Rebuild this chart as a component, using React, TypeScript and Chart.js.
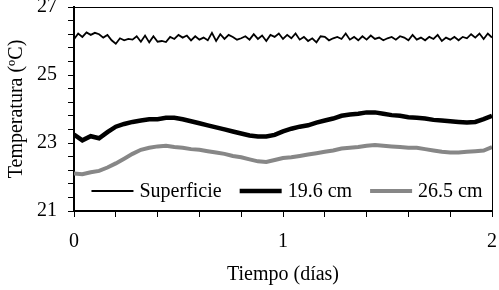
import { useEffect, useRef } from "react";
import { Chart, registerables } from "chart.js";

Chart.register(...registerables);

// ---- data ----
const seriesNames = ["Superficie", "19.6 cm", "26.5 cm"];
const surfaceStep = 0.02; // days between surface readings
const surfaceTemps = [
  26.05, 26.22, 26.12, 26.25, 26.18, 26.24, 26.2, 26.1, 26.18, 26.02,
  25.92, 26.08, 26.02, 26.06, 26.04, 26.14, 25.98, 26.16, 25.96, 26.14,
  25.98, 26.0, 25.97, 26.12, 26.06, 26.18, 26.1, 26.16, 26.02, 26.14,
  26.04, 26.1, 26.02, 26.24, 26.0, 26.2, 26.06, 26.18, 26.12, 26.04,
  26.08, 26.14, 26.04, 26.2, 26.06, 26.16, 26.0, 26.18, 26.12, 26.22,
  26.06, 26.18, 26.08, 26.22, 26.04, 26.12, 26.0, 26.08, 25.96, 26.14,
  26.12, 26.02, 26.08, 26.12, 26.06, 26.22, 26.04, 26.12, 26.02, 26.14,
  26.04, 26.16, 26.06, 26.1, 26.02, 26.08, 26.12, 26.04, 26.14, 26.1,
  26.02, 26.18, 26.04, 26.1, 26.02, 26.12, 26.06, 26.18, 26.0, 26.1,
  26.04, 26.12, 26.02, 26.12, 26.08, 26.2, 26.1, 26.22, 26.06, 26.22,
  26.1,
];
const deepStep = 0.04; // days between readings at depth
const temps196 = [
  23.25, 23.08, 23.2, 23.14, 23.32, 23.48, 23.56, 23.62, 23.66, 23.7,
  23.7, 23.74, 23.74, 23.7, 23.64, 23.58, 23.52, 23.46, 23.4, 23.34,
  23.28, 23.22, 23.19, 23.19, 23.24, 23.34, 23.42, 23.48, 23.52, 23.6,
  23.66, 23.72, 23.8, 23.84, 23.86, 23.9, 23.9, 23.86, 23.82, 23.8,
  23.76, 23.74, 23.72, 23.68, 23.66, 23.64, 23.62, 23.6, 23.62, 23.7,
  23.8,
];
const temps265 = [
  22.1, 22.08, 22.14, 22.18, 22.28, 22.4, 22.54, 22.68, 22.8, 22.86,
  22.9, 22.92, 22.88, 22.86, 22.82, 22.8, 22.76, 22.72, 22.68, 22.62,
  22.58, 22.52, 22.46, 22.44, 22.5, 22.56, 22.58, 22.62, 22.66, 22.7,
  22.74, 22.78, 22.84, 22.86, 22.88, 22.92, 22.94, 22.92, 22.9, 22.88,
  22.86, 22.86, 22.82, 22.78, 22.74, 22.72, 22.72, 22.74, 22.76, 22.78,
  22.88,
];
const xLabelTicks = [0, 1, 2];
const yLabelTicks = [21, 23, 25, 27];
const xAxisTitle = "Tiempo (días)";
const yAxisTitle = "Temperatura (ºC)";

const toPoints = (vals: number[], step: number) =>
  vals.map((v, i) => ({ x: Math.round(i * step * 1000) / 1000, y: v }));

const FONT = "'Liberation Serif', 'Times New Roman', serif";
const FS = 20;

const isLabelTick = (v: number, list: number[]) =>
  list.some((t) => Math.abs(t - v) < 1e-6);

const framePlugin = {
  id: "frame",
  afterDraw(chart: any) {
    const { ctx, chartArea: a } = chart;
    ctx.save();
    ctx.strokeStyle = "#000";
    ctx.lineWidth = 1;
    ctx.beginPath();
    ctx.moveTo(a.left, a.top + 0.5);
    ctx.lineTo(a.right + 0.5, a.top + 0.5);
    ctx.lineTo(a.right + 0.5, a.bottom);
    ctx.stroke();
    ctx.restore();
  },
};

const legendPlugin = {
  id: "insideLegend",
  afterDatasetsDraw(chart: any) {
    const { ctx, chartArea: a } = chart;
    const lineLen = 42;
    const gap = 6;
    const itemGap = 18;
    ctx.save();
    ctx.font = `${FS}px ${FONT}`;
    ctx.textBaseline = "middle";
    const items = chart.data.datasets.map((ds: any) => ({
      ds,
      w: lineLen + gap + ctx.measureText(ds.label).width,
    }));
    const total =
      items.reduce((s: number, it: any) => s + it.w, 0) +
      itemGap * (items.length - 1);
    let x = (a.left + a.right) / 2 - total / 2 + 4;
    const y = a.bottom - 20;
    for (const it of items) {
      ctx.strokeStyle = it.ds.borderColor;
      ctx.lineWidth = it.ds.borderWidth;
      ctx.beginPath();
      ctx.moveTo(x, y);
      ctx.lineTo(x + lineLen, y);
      ctx.stroke();
      ctx.fillStyle = "#000";
      ctx.fillText(it.ds.label, x + lineLen + gap, y + 1);
      x += it.w + itemGap;
    }
    ctx.restore();
  },
};

export default function App() {
  const ref = useRef<HTMLCanvasElement | null>(null);

  useEffect(() => {
    if (!ref.current) return;
    Chart.defaults.font.family = FONT;
    Chart.defaults.color = "#000";
    const chart = new Chart(ref.current, {
      type: "line",
      data: {
        datasets: [
          {
            label: seriesNames[0],
            data: toPoints(surfaceTemps, surfaceStep),
            borderColor: "#000",
            borderWidth: 1.8,
            pointRadius: 0,
            tension: 0,
          },
          {
            label: seriesNames[1],
            data: toPoints(temps196, deepStep),
            borderColor: "#000",
            borderWidth: 4.5,
            pointRadius: 0,
            tension: 0,
          },
          {
            label: seriesNames[2],
            data: toPoints(temps265, deepStep),
            borderColor: "#878787",
            borderWidth: 4,
            pointRadius: 0,
            tension: 0,
          },
        ],
      },
      options: {
        animation: false,
        responsive: false,
        maintainAspectRatio: false,
        layout: { padding: { top: 7, right: 7, bottom: 0, left: 0 } },
        plugins: {
          legend: { display: false },
          tooltip: { enabled: false },
        },
        scales: {
          x: {
            type: "linear",
            min: 0,
            max: 2,
            ticks: {
              stepSize: 0.2,
              autoSkip: false,
              maxRotation: 0,
              padding: 13,
              maxTicksLimit: 100,
              font: { size: FS, family: FONT },
              color: "#000",
              callback: (v: any) =>
                isLabelTick(Number(v), xLabelTicks) ? String(Math.round(Number(v))) : "",
            },
            grid: {
              drawOnChartArea: false,
              drawTicks: true,
              tickLength: 6,
              color: "#000",
              lineWidth: 1,
            },
            border: { display: true, color: "#000", width: 2 },
            title: {
              display: true,
              text: xAxisTitle,
              font: { size: FS, family: FONT },
              color: "#000",
              padding: { top: 0, bottom: 3 },
            },
            afterFit: (s: any) => {
              s.height = 79;
              s.paddingLeft = 0;
              s.paddingRight = 0;
            },
          },
          y: {
            type: "linear",
            min: 21,
            max: 27,
            ticks: {
              stepSize: 0.4,
              autoSkip: false,
              padding: 11,
              maxTicksLimit: 100,
              font: { size: FS, family: FONT },
              color: "#000",
              callback: (v: any) =>
                isLabelTick(Number(v), yLabelTicks) ? String(Math.round(Number(v))) : "",
            },
            grid: {
              drawOnChartArea: false,
              drawTicks: true,
              tickLength: 6,
              color: "#000",
              lineWidth: 1,
            },
            border: { display: true, color: "#000", width: 2 },
            title: {
              display: true,
              text: yAxisTitle,
              font: { size: FS, family: FONT },
              color: "#000",
              padding: { top: 5, bottom: 0 },
            },
            afterFit: (s: any) => {
              s.width = 74;
              s.paddingTop = 0;
              s.paddingBottom = 0;
            },
          },
        },
      },
      plugins: [framePlugin, legendPlugin],
    });
    return () => chart.destroy();
  }, []);

  return (
    <div style={{ position: "fixed", left: 0, top: 0, width: 499, height: 290, background: "#fff" }}>
      <canvas ref={ref} width={499} height={290} style={{ width: 499, height: 290 }} />
    </div>
  );
}
